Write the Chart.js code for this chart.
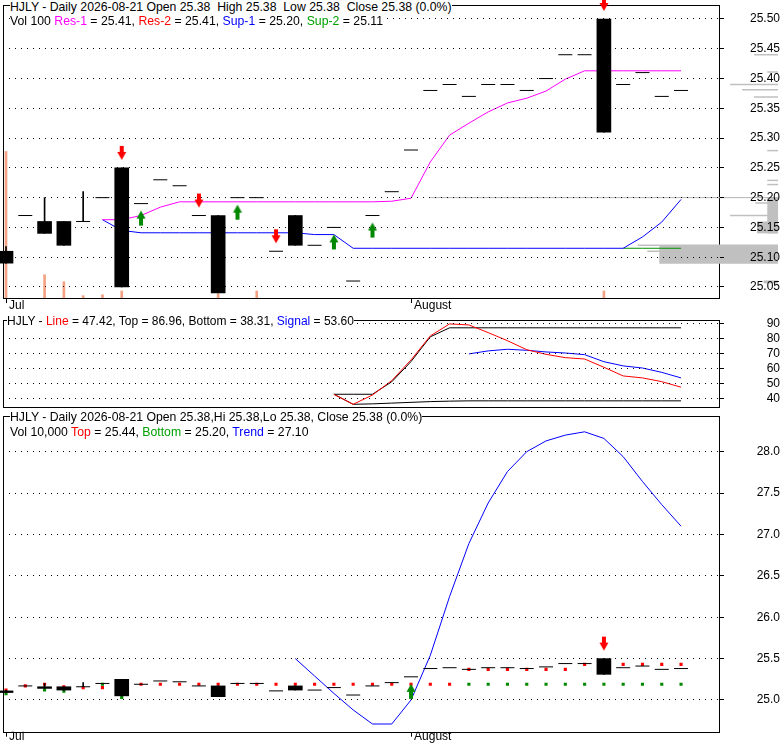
<!DOCTYPE html>
<html>
<head>
<meta charset="utf-8">
<script src="https://cdn.jsdelivr.net/npm/chart.js@4.4.1/dist/chart.umd.min.js"></script>
<style>
  body { margin: 0; background: #fff; }
  #wrap { position: relative; width: 780px; height: 745px; overflow: hidden; }
  canvas { position: absolute; left: 0; }
  .cap { position: absolute; font: 12.25px "Liberation Sans", Arial, sans-serif; line-height: 14px; white-space: pre; background: #fff; color: #000; }
  .cap.small { font-size: 12px; }
  .mag { color: #ff00ff; } .red { color: #ff0000; } .blu { color: #0000ff; } .grn { color: #00a000; }
</style>
</head>
<body>
<div id="wrap">
  <canvas id="priceChart" width="780" height="312" style="top:0"></canvas>
  <canvas id="stochChart" width="780" height="98" style="top:312px"></canvas>
  <canvas id="trendChart" width="780" height="335" style="top:410px"></canvas>
  <div class="cap" style="left:10px;top:0">HJLY - Daily 2026-08-21 Open 25.38  High 25.38  Low 25.38  Close 25.38 (0.0%)</div>
  <div class="cap" style="left:10px;top:14px">Vol 100 <span class="mag">Res-1</span> = 25.41, <span class="red">Res-2</span> = 25.41, <span class="blu">Sup-1</span> = 25.20, <span class="grn">Sup-2</span> = 25.11</div>
  <div class="cap small" style="left:7px;top:314px">HJLY - <span class="red">Line</span> = 47.42, Top = 86.96, Bottom = 38.31, <span class="blu">Signal</span> = 53.60</div>
  <div class="cap" style="left:10px;top:410px">HJLY - Daily 2026-08-21 Open 25.38,Hi 25.38,Lo 25.38, Close 25.38 (0.0%)</div>
  <div class="cap" style="left:10px;top:425px">Vol 10,000 <span class="red">Top</span> = 25.44, <span class="grn">Bottom</span> = 25.20, <span class="blu">Trend</span> = 27.10</div>
</div>
<script>
// Daily bars, 36 sessions (first of July .. 2026-08-21)
const opens  = [25.11, 25.17, 25.16, 25.16, 25.16, 25.20, 25.25, 25.19, 25.23, 25.22, 25.17, 25.17, 25.20, 25.20, 25.11, 25.17, 25.12, 25.15, 25.06, 25.17, 25.21, 25.28, 25.38, 25.39, 25.37, 25.39, 25.39, 25.38, 25.40, 25.44, 25.44, 25.50, 25.39, 25.41, 25.37, 25.38];
const highs  = [25.118, 25.17, 25.20, 25.16, 25.21, 25.20, 25.25, 25.19, 25.23, 25.22, 25.17, 25.17, 25.20, 25.20, 25.11, 25.17, 25.12, 25.15, 25.06, 25.17, 25.21, 25.28, 25.38, 25.39, 25.37, 25.39, 25.39, 25.38, 25.40, 25.44, 25.44, 25.50, 25.39, 25.41, 25.37, 25.38];
const lows   = [25.09, 25.17, 25.14, 25.12, 25.16, 25.20, 25.05, 25.19, 25.23, 25.22, 25.17, 25.04, 25.20, 25.20, 25.11, 25.12, 25.12, 25.15, 25.06, 25.17, 25.21, 25.28, 25.38, 25.39, 25.37, 25.39, 25.39, 25.38, 25.40, 25.44, 25.44, 25.31, 25.39, 25.41, 25.37, 25.38];
const closes = [25.09, 25.17, 25.14, 25.12, 25.16, 25.20, 25.05, 25.19, 25.23, 25.22, 25.17, 25.04, 25.20, 25.20, 25.11, 25.12, 25.12, 25.15, 25.06, 25.17, 25.21, 25.28, 25.38, 25.39, 25.37, 25.39, 25.39, 25.38, 25.40, 25.44, 25.44, 25.31, 25.39, 25.41, 25.37, 25.38];
const volumes = [6300, 0, 1000, 700, 100, 140, 300, 0, 0, 0, 0, 170, 0, 300, 0, 0, 0, 0, 0, 0, 0, 0, 0, 0, 0, 0, 0, 0, 0, 0, 0, 300, 0, 0, 0, 0];

const monthTickIdx = [0, 21];
const monthTickLabels = ["Jul", "August"];

// support / resistance (top panel)
const res1 = [null, null, null, null, null, 25.163, 25.163, 25.170, 25.184, 25.193, 25.193, 25.193, 25.193, 25.193, 25.193, 25.193, 25.193, 25.193, 25.193, 25.193, 25.194, 25.199, 25.260, 25.305, 25.325, 25.344, 25.359, 25.367, 25.379, 25.399, 25.413, 25.413, 25.413, 25.413, 25.413, 25.413];
const sup1 = [null, null, null, null, null, 25.163, 25.145, 25.141, 25.141, 25.141, 25.141, 25.141, 25.141, 25.141, 25.141, 25.141, 25.138, 25.138, 25.115, 25.115, 25.115, 25.115, 25.115, 25.115, 25.115, 25.115, 25.115, 25.115, 25.115, 25.115, 25.115, 25.115, 25.115, 25.134, 25.159, 25.197];
const sup2 = [null, null, null, null, null, null, null, null, null, null, null, null, null, null, null, null, null, null, null, null, null, null, null, null, null, null, null, null, null, null, null, null, 25.115, 25.115, 25.115, 25.115];
const sellIdx = [6, 10, 14, 31];
const buyIdx = [7, 12, 17, 19];
const levelPrice = 25.20;
const levelStartIdx = 22;

// price histogram on the right edge (low, high, size in day units)
const profileLow  = [25.089, 25.140, 25.140, 25.170, 25.191, 25.222, 25.229, 25.279, 25.369, 25.381, 25.390, 25.411, 25.440, 25.056, 25.120, 25.110];
const profileHigh = [25.120, 25.201, 25.160, 25.170, 25.191, 25.222, 25.229, 25.279, 25.369, 25.381, 25.390, 25.411, 25.440, 25.061, 25.120, 25.110];
const profileSize = [9.9, 0.9, 1.75, 4, 1.9, 0.9, 0.9, 0.9, 2, 3, 4, 0.9, 2, 1.2, 11.7, 10.9];

const priceTicks = [25.05, 25.10, 25.15, 25.20, 25.25, 25.30, 25.35, 25.40, 25.45, 25.50];

// oscillator (middle panel)
const stLine   = [null, null, null, null, null, null, null, null, null, null, null, null, null, null, null, null, null, 42.7, 36.0, 42.2, 51.8, 65.6, 81.6, 89.6, 88.9, 83.8, 78.4, 72.4, 69.3, 67.1, 66.2, 60.7, 54.9, 53.6, 51.1, 47.4];
const stTop    = [null, null, null, null, null, null, null, null, null, null, null, null, null, null, null, null, null, 42.7, 42.7, 42.7, 51.0, 64.5, 81.0, 87.0, 87.0, 87.0, 87.0, 87.0, 87.0, 87.0, 87.0, 87.0, 87.0, 87.0, 87.0, 87.0];
const stBottom = [null, null, null, null, null, null, null, null, null, null, null, null, null, null, null, null, null, 42.7, 36.0, 36.3, 36.8, 37.3, 37.8, 38.1, 38.3, 38.3, 38.3, 38.3, 38.3, 38.3, 38.3, 38.3, 38.3, 38.3, 38.3, 38.3];
const stSignal = [null, null, null, null, null, null, null, null, null, null, null, null, null, null, null, null, null, null, null, null, null, null, null, null, 69.6, 71.6, 72.7, 72.0, 70.9, 70.2, 69.1, 64.4, 61.6, 60.2, 57.3, 53.6];
const stTicks = [40, 50, 60, 70, 80, 90];

// trend panel (bottom)
const trend = [null, null, null, null, null, null, null, null, null, null, null, null, null, null, null, 25.50, 25.29, 25.08, 24.88, 24.71, 24.71, 25.00, 25.54, 26.25, 26.89, 27.38, 27.76, 28.00, 28.13, 28.20, 28.24, 28.16, 27.94, 27.64, 27.36, 27.10];
const topMarks = [25.12, 25.17, 25.19, 25.16, 25.15, 25.15, 25.19, 25.19, 25.19, 25.19, 25.19, 25.19, 25.19, 25.19, 25.19, 25.19, 25.19, 25.19, 25.19, 25.19, 25.19, 25.19, 25.19, 25.19, 25.37, 25.37, 25.37, 25.37, 25.37, 25.37, 25.43, 25.43, 25.43, 25.43, 25.43, 25.43];
const bottomMarks = [25.075, null, 25.12, 25.105, null, 25.19, 25.03, null, null, null, null, null, null, null, null, null, null, null, null, null, null, null, null, null, 25.19, 25.19, 25.19, 25.19, 25.19, 25.19, 25.19, 25.19, 25.19, 25.19, 25.19, 25.19];
const trendSellIdx = [31];
const trendBuyIdx = [21];
const trendTicks = [25.0, 25.5, 26.0, 26.5, 27.0, 27.5, 28.0];

//!---------------------------------------------------------------

const FONT = '"Liberation Sans", Arial, sans-serif';
Chart.defaults.font.family = FONT;
Chart.defaults.font.size = 12;
Chart.defaults.color = "#000";
Chart.defaults.animation = false;
Chart.defaults.events = [];
Chart.defaults.plugins.legend.display = false;
Chart.defaults.plugins.tooltip.enabled = false;

const days = opens.map((_, i) => i);
const X_MIN = -0.156;
const X_MAX = 37.02;
const PROFILE_END = 40.03; // right edge of the canvas, in day units
const PROFILE_UNIT = 0.622;

function labelWidth(text) {
  const g = document.createElement("canvas").getContext("2d");
  g.font = "normal 12px " + FONT;
  return g.measureText(text).width;
}

function makeArrow(color, down) {
  const c = document.createElement("canvas");
  c.width = 14;
  c.height = 46;
  const g = c.getContext("2d");
  g.fillStyle = color;
  g.beginPath();
  if (down) {
    g.rect(5, 1, 4, 7);
    g.moveTo(2.5, 7);
    g.lineTo(11.5, 7);
    g.lineTo(7, 15);
    g.closePath();
  } else {
    g.moveTo(7, 30);
    g.lineTo(11.5, 38);
    g.lineTo(2.5, 38);
    g.closePath();
    g.rect(5, 38, 4, 7);
  }
  g.fill();
  return c;
}
const downArrow = makeArrow("#ff0000", true);
const upArrow = makeArrow("#008800", false);

// black frame round the plot area
const framePlugin = {
  id: "frame",
  beforeDatasetsDraw(chart) {
    const { ctx, chartArea: a } = chart;
    ctx.save();
    ctx.strokeStyle = "#000";
    ctx.lineWidth = 1;
    ctx.strokeRect(Math.round(a.left) + 0.5, Math.round(a.top) + 0.5, Math.round(a.right - a.left) - 1, Math.round(a.bottom - a.top));
    ctx.restore();
  },
};

function xAxis(show, axisHeight, labelPad) {
  return {
    type: "linear",
    min: X_MIN,
    max: X_MAX,
    offset: false,
    display: show,
    afterBuildTicks: (s) => { s.ticks = monthTickIdx.map((v) => ({ value: v })); },
    afterFit: (s) => { s.height = axisHeight; s.paddingLeft = 0; s.paddingRight = 0; },
    ticks: {
      align: "start",
      labelOffset: 3,
      padding: labelPad,
      autoSkip: false,
      maxRotation: 0,
      callback: (v) => monthTickLabels[monthTickIdx.indexOf(v)],
    },
    grid: { offset: false, drawOnChartArea: false, drawTicks: true, tickLength: 5, tickColor: "#000", color: "#000" },
    border: { display: false },
  };
}

function yAxis(min, max, ticks, digits) {
  const sample = ticks[ticks.length - 1].toFixed(digits);
  return {
    type: "linear",
    position: "right",
    min: min,
    max: max,
    afterBuildTicks: (s) => { s.ticks = ticks.map((v) => ({ value: v })); },
    afterFit: (s) => { s.width = 60; s.paddingTop = 0; s.paddingBottom = 0; },
    ticks: { z: 1, autoSkip: false, crossAlign: "far", padding: 51 - labelWidth(sample), callback: (v) => v.toFixed(digits) },
    grid: { z: 1, offset: false, color: "#000", lineWidth: 1, tickLength: 4, tickColor: "#000" },
    border: { display: false, dash: [1, 5] },
  };
}

function lineSet(data, color) {
  return { type: "line", data: data, borderColor: color, borderWidth: 1, pointRadius: 0, tension: 0, fill: false };
}

function candleSets(sells, buys) {
  return [
    { type: "line", data: days.map((i) => (sells.includes(i) ? highs[i] : null)), showLine: false, pointStyle: downArrow, pointRadius: 8, clip: false },
    { type: "line", data: days.map((i) => (buys.includes(i) ? lows[i] : null)), showLine: false, pointStyle: upArrow, pointRadius: 8, clip: false },
    {
      type: "bar",
      data: days.map((i) => (opens[i] !== closes[i] ? [Math.min(opens[i], closes[i]), Math.max(opens[i], closes[i])] : null)),
      backgroundColor: days.map((i) => (closes[i] < opens[i] ? "#000" : "#fff")),
      borderWidth: 0,
      barThickness: 14,
      grouped: false,
      clip: false,
    },
    {
      type: "bar",
      data: days.map((i) => (highs[i] > lows[i] ? [lows[i], highs[i]] : null)),
      backgroundColor: "#000",
      borderWidth: 0,
      barThickness: 1,
      grouped: false,
      clip: false,
    },
    {
      type: "line",
      data: days.map((i) => (opens[i] === closes[i] ? closes[i] : null)),
      showLine: false,
      pointStyle: "line",
      pointRadius: 7,
      pointBorderWidth: 1,
      pointBorderColor: "#000",
    },
  ];
}

// price histogram segments, one dataset each so every one gets its own thickness
const profileSets = profileLow.map((lo, k) => {
  const hi = profileHigh[k];
  const mid = (lo + hi) / 2;
  return {
    type: "line",
    data: [
      { x: PROFILE_END - profileSize[k] * PROFILE_UNIT, y: mid },
      { x: PROFILE_END, y: mid },
    ],
    borderColor: "#c0c0c0",
    borderWidth: (c) => {
      const y = c.chart.scales.y;
      return Math.max(1.5, Math.abs(y.getPixelForValue(lo) - y.getPixelForValue(hi)));
    },
    pointRadius: 0,
    clip: false,
  };
});

// Create the price chart
new Chart(document.getElementById("priceChart"), {
  type: "line",
  data: {
    labels: days,
    datasets: [
      ...candleSets(sellIdx, buyIdx),
      lineSet(res1, "#ff00ff"),
      lineSet(sup1, "#0000ff"),
      lineSet(sup2, "#009000"),
      {
        type: "line",
        data: [{ x: levelStartIdx, y: levelPrice }, { x: PROFILE_END, y: levelPrice }],
        borderColor: "#b4b4b4",
        borderWidth: 1,
        pointRadius: 0,
        clip: false,
      },
      ...profileSets,
      {
        type: "bar",
        data: volumes.map((v) => (v > 0 ? v : null)),
        yAxisID: "vol",
        backgroundColor: "#f4a284",
        borderWidth: 0,
        barThickness: 2,
        grouped: false,
      },
    ],
  },
  options: {
    responsive: false,
    layout: { autoPadding: false, padding: { top: 5, left: 3, right: 0, bottom: 0 } },
    scales: {
      x: xAxis(true, 14, -5),
      y: yAxis(25.0315, 25.5235, priceTicks, 2),
      vol: { display: false, min: 0, max: 12600 },
    },
  },
  plugins: [framePlugin],
});

// Create the oscillator chart
new Chart(document.getElementById("stochChart"), {
  type: "line",
  data: {
    labels: days,
    datasets: [
      lineSet(stLine, "#ff0000"),
      lineSet(stSignal, "#0000ff"),
      lineSet(stTop, "#000000"),
      lineSet(stBottom, "#000000"),
    ],
  },
  options: {
    responsive: false,
    layout: { autoPadding: false, padding: { top: 8, left: 3, right: 0, bottom: 3.3 } },
    scales: {
      x: xAxis(false, 0, 0),
      y: yAxis(34.4, 92.2, stTicks, 0),
    },
  },
  plugins: [framePlugin],
});

// Create the trend chart
new Chart(document.getElementById("trendChart"), {
  type: "line",
  data: {
    labels: days,
    datasets: [
      ...candleSets(trendSellIdx, trendBuyIdx),
      lineSet(trend, "#0000ff"),
      { type: "line", data: topMarks, showLine: false, pointStyle: "rect", pointRadius: 2.2, pointBorderWidth: 0, pointBackgroundColor: "#ff0000" },
      { type: "line", data: bottomMarks, showLine: false, pointStyle: "rect", pointRadius: 2.2, pointBorderWidth: 0, pointBackgroundColor: "#008800" },
    ],
  },
  options: {
    responsive: false,
    layout: { autoPadding: false, padding: { top: 6, left: 3, right: 0, bottom: 0 } },
    scales: {
      x: xAxis(true, 13.3, -7),
      y: yAxis(24.617, 28.431, trendTicks, 1),
    },
  },
  plugins: [framePlugin],
});
</script>
</body>
</html>
